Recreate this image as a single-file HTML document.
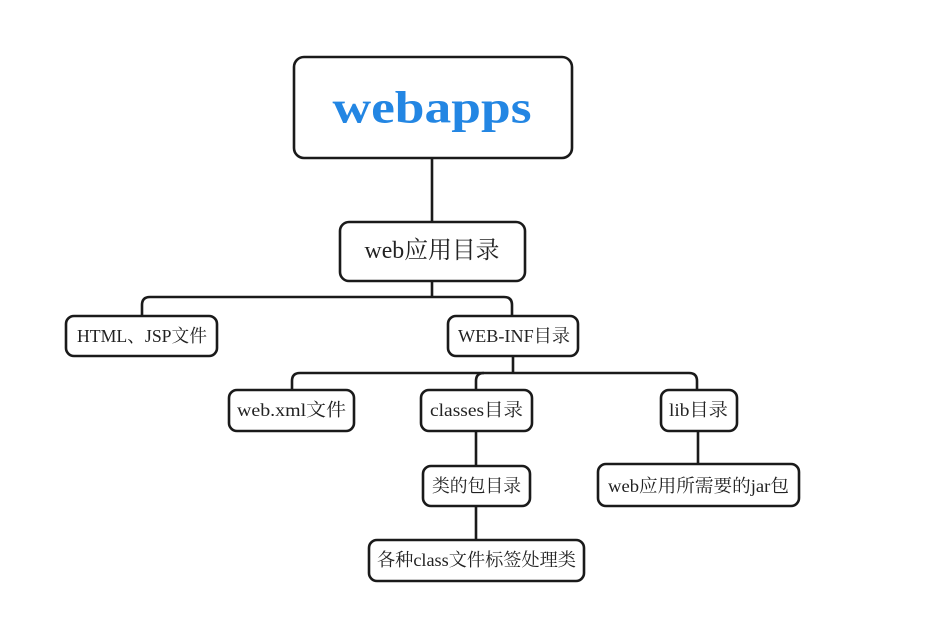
<!DOCTYPE html>
<html><head><meta charset="utf-8"><style>
html,body{margin:0;padding:0;background:#fff;}
svg{display:block;}
text{font-family:"Liberation Serif","Noto Serif CJK SC",serif;fill:#222;text-anchor:middle;dominant-baseline:central;}
</style></head><body>
<svg width="945" height="623" viewBox="0 0 945 623" xmlns="http://www.w3.org/2000/svg">
<g fill="none" stroke="#1a1a1a" stroke-width="2.6">
<path d="M432 158V222"/>
<path d="M432 281V297"/>
<path d="M142 316V305Q142 297 150 297H504Q512 297 512 305V316"/>
<path d="M513 356V373"/>
<path d="M292 390V381Q292 373 300 373H689Q697 373 697 381V390"/>
<path d="M476 390V381Q476 373 484 373"/>
<path d="M476 431V540"/>
<path d="M698 431V464"/>
</g>
<g fill="#fff" stroke="#1a1a1a" stroke-width="2.6">
<rect x="294" y="57" width="278" height="101" rx="10"/>
<rect x="340" y="222" width="185" height="59" rx="9"/>
<rect x="66" y="316" width="151" height="40" rx="8"/>
<rect x="448" y="316" width="130" height="40" rx="8"/>
<rect x="229" y="390" width="125" height="41" rx="8"/>
<rect x="421" y="390" width="111" height="41" rx="8"/>
<rect x="661" y="390" width="76" height="41" rx="8"/>
<rect x="423" y="466" width="107" height="40" rx="8"/>
<rect x="598" y="464" width="201" height="42" rx="8"/>
<rect x="369" y="540" width="215" height="41" rx="8"/>
</g>
<text x="432" y="107" style="font-weight:bold;fill:#2386e3;font-size:46px" textLength="199" lengthAdjust="spacingAndGlyphs">webapps</text>
<text x="432" y="251" style="font-size:24px" textLength="135" lengthAdjust="spacingAndGlyphs">web应用目录</text>
<text x="142" y="336" style="font-size:18px" textLength="130" lengthAdjust="spacingAndGlyphs">HTML、JSP文件</text>
<text x="514" y="336" style="font-size:18px" textLength="112" lengthAdjust="spacingAndGlyphs">WEB-INF目录</text>
<text x="291.5" y="410" style="font-size:18px" textLength="109" lengthAdjust="spacingAndGlyphs">web.xml文件</text>
<text x="476.5" y="410" style="font-size:18px" textLength="93" lengthAdjust="spacingAndGlyphs">classes目录</text>
<text x="698.5" y="410" style="font-size:18px" textLength="59" lengthAdjust="spacingAndGlyphs">lib目录</text>
<text x="476.5" y="486" style="font-size:18px" textLength="89" lengthAdjust="spacingAndGlyphs">类的包目录</text>
<text x="698.5" y="486" style="font-size:18px" textLength="181" lengthAdjust="spacingAndGlyphs">web应用所需要的jar包</text>
<text x="476.5" y="560" style="font-size:18px" textLength="199" lengthAdjust="spacingAndGlyphs">各种class文件标签处理类</text>
</svg>
</body></html>
